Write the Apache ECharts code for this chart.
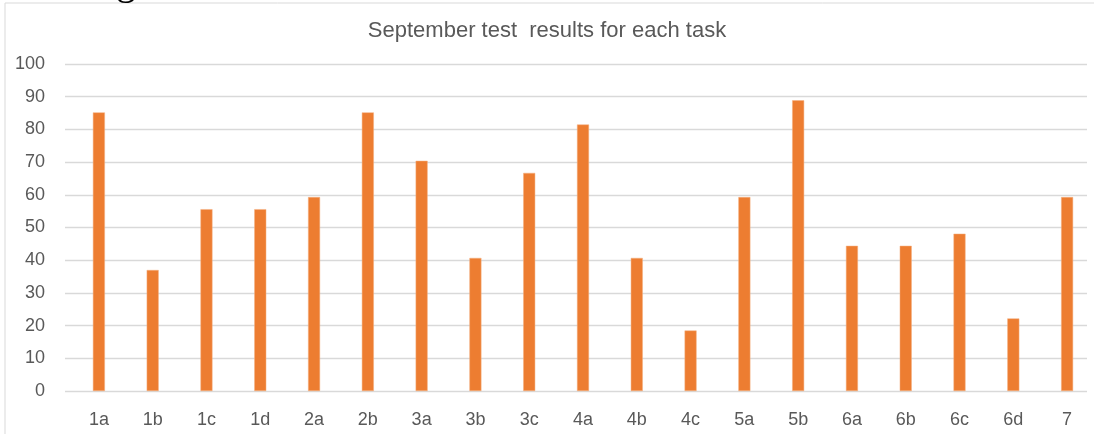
<!DOCTYPE html>
<html>
<head>
<meta charset="utf-8">
<script src="https://cdn.jsdelivr.net/npm/echarts@6/dist/echarts.min.js"></script>
<style>
  html, body { margin: 0; padding: 0; background: #fff; }
  #chart { width: 1094px; height: 434px; }
</style>
</head>
<body>
<div id="chart"></div>
<script>
// task names and results (percent)
var tasks = ['1a', '1b', '1c', '1d', '2a', '2b', '3a', '3b', '3c', '4a', '4b', '4c', '5a', '5b', '6a', '6b', '6c', '6d', '7'];
var results = [85.2, 37.0, 55.6, 55.6, 59.3, 85.2, 70.4, 40.7, 66.7, 81.5, 40.7, 18.5, 59.3, 88.9, 44.4, 44.4, 48.1, 22.2, 59.3];
var yMin = 0, yMax = 100, yStep = 10;

var labelColor = '#595959';
var font = 'Liberation Sans';

var chart = echarts.init(document.getElementById('chart'));
var option = {
  backgroundColor: '#fff',
  animation: false,
  title: {
    text: 'September test  results for each task',
    left: 'center',
    top: 15,
    textStyle: { fontFamily: font, fontSize: 22, fontWeight: 'normal', color: labelColor }
  },
  graphic: [
    {
      type: 'rect',
      shape: { x: 5, y: 3, width: 1200, height: 600 },
      style: { fill: 'none', stroke: '#d9d9d9', lineWidth: 1 },
      silent: true
    },
    {
      type: 'text',
      left: 116,
      top: -37,
      style: { text: 'g', fontFamily: 'Liberation Serif', fontSize: 40, fill: '#000' },
      silent: true
    }
  ],
  grid: [
    { left: 65, right: 7, top: 64, bottom: 43 },
    { left: 72, right: 0, top: 64, bottom: 43 }
  ],
  xAxis: [
    { type: 'category', gridIndex: 0, data: tasks, show: false },
    {
      type: 'category',
      gridIndex: 1,
      data: tasks,
      axisLine: { show: false },
      axisTick: { show: false },
      axisLabel: { color: labelColor, fontFamily: font, fontSize: 18, margin: 20 }
    }
  ],
  yAxis: [
    {
      type: 'value',
      gridIndex: 0,
      min: yMin,
      max: yMax,
      interval: yStep,
      axisLine: { show: false },
      axisTick: { show: false },
      axisLabel: { color: labelColor, fontFamily: font, fontSize: 18, margin: 20 },
      splitLine: { lineStyle: { color: '#d9d9d9', width: 1.3 } }
    },
    {
      type: 'value',
      gridIndex: 1,
      min: yMin,
      max: yMax,
      interval: yStep,
      show: false,
      splitLine: { show: false }
    }
  ],
  series: [
    {
      type: 'bar',
      xAxisIndex: 1,
      yAxisIndex: 1,
      data: results,
      barWidth: 12,
      itemStyle: { color: '#ED7D31', borderColor: '#F4B183', borderWidth: 0.5 }
    }
  ]
};
chart.setOption(option);
</script>
</body>
</html>
